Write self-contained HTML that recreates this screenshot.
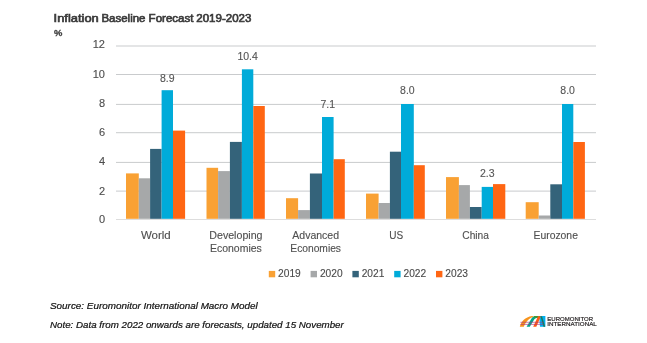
<!DOCTYPE html><html><head><meta charset="utf-8"><style>html,body{margin:0;padding:0;background:#fff;width:647px;height:343px;overflow:hidden}svg{display:block;will-change:transform}text{font-family:"Liberation Sans",sans-serif}</style></head><body>
<svg width="647" height="343" viewBox="0 0 647 343">
<rect width="647" height="343" fill="#fff"/>
<rect x="116.0" y="219.00" width="480" height="1" fill="#DDDDDD"/>
<text x="105" y="222.80" font-size="11" fill="#4D4D4D" stroke="#4D4D4D" stroke-width="0.12" text-anchor="end">0</text>
<rect x="116.0" y="190.60" width="480" height="1" fill="#C9CBCD"/>
<text x="105" y="194.50" font-size="11" fill="#4D4D4D" stroke="#4D4D4D" stroke-width="0.12" text-anchor="end">2</text>
<rect x="116.0" y="161.90" width="480" height="1" fill="#C9CBCD"/>
<text x="105" y="164.90" font-size="11" fill="#4D4D4D" stroke="#4D4D4D" stroke-width="0.12" text-anchor="end">4</text>
<rect x="116.0" y="132.20" width="480" height="1" fill="#C9CBCD"/>
<text x="105" y="136.30" font-size="11" fill="#4D4D4D" stroke="#4D4D4D" stroke-width="0.12" text-anchor="end">6</text>
<rect x="116.0" y="103.90" width="480" height="1" fill="#C9CBCD"/>
<text x="105" y="107.10" font-size="11" fill="#4D4D4D" stroke="#4D4D4D" stroke-width="0.12" text-anchor="end">8</text>
<rect x="116.0" y="74.00" width="480" height="1" fill="#C9CBCD"/>
<text x="105" y="78.10" font-size="11" fill="#4D4D4D" stroke="#4D4D4D" stroke-width="0.12" text-anchor="end">10</text>
<rect x="116.0" y="45.50" width="480" height="1" fill="#C9CBCD"/>
<text x="105" y="48.30" font-size="11" fill="#4D4D4D" stroke="#4D4D4D" stroke-width="0.12" text-anchor="end">12</text>
<rect x="126.00" y="173.40" width="12.80" height="45.40" fill="#F9A134"/>
<rect x="138.80" y="178.30" width="11.30" height="40.50" fill="#A6A8A9"/>
<rect x="150.10" y="148.90" width="11.50" height="69.90" fill="#34637A"/>
<rect x="161.60" y="90.20" width="11.40" height="128.60" fill="#00ABD9"/>
<rect x="173.00" y="130.60" width="12.10" height="88.20" fill="#FF6613"/>
<rect x="206.50" y="167.80" width="11.60" height="51.00" fill="#F9A134"/>
<rect x="218.10" y="171.10" width="11.80" height="47.70" fill="#A6A8A9"/>
<rect x="229.90" y="141.90" width="12.00" height="76.90" fill="#34637A"/>
<rect x="241.90" y="69.30" width="11.40" height="149.50" fill="#00ABD9"/>
<rect x="253.30" y="106.00" width="11.50" height="112.80" fill="#FF6613"/>
<rect x="286.00" y="198.20" width="12.10" height="20.60" fill="#F9A134"/>
<rect x="298.10" y="210.10" width="11.80" height="8.70" fill="#A6A8A9"/>
<rect x="309.90" y="173.50" width="12.10" height="45.30" fill="#34637A"/>
<rect x="322.00" y="117.00" width="11.60" height="101.80" fill="#00ABD9"/>
<rect x="333.60" y="159.20" width="11.20" height="59.60" fill="#FF6613"/>
<rect x="366.00" y="193.60" width="12.60" height="25.20" fill="#F9A134"/>
<rect x="378.60" y="203.00" width="11.30" height="15.80" fill="#A6A8A9"/>
<rect x="389.90" y="151.70" width="11.10" height="67.10" fill="#34637A"/>
<rect x="401.00" y="104.00" width="12.80" height="114.80" fill="#00ABD9"/>
<rect x="413.80" y="165.20" width="11.00" height="53.60" fill="#FF6613"/>
<rect x="446.00" y="177.10" width="12.90" height="41.70" fill="#F9A134"/>
<rect x="458.90" y="185.10" width="11.00" height="33.70" fill="#A6A8A9"/>
<rect x="469.90" y="207.00" width="11.80" height="11.80" fill="#34637A"/>
<rect x="481.70" y="186.90" width="11.30" height="31.90" fill="#00ABD9"/>
<rect x="493.00" y="184.10" width="12.30" height="34.70" fill="#FF6613"/>
<rect x="525.70" y="202.20" width="13.00" height="16.60" fill="#F9A134"/>
<rect x="538.70" y="215.50" width="11.60" height="3.30" fill="#A6A8A9"/>
<rect x="550.30" y="184.30" width="11.70" height="34.50" fill="#34637A"/>
<rect x="562.00" y="104.00" width="11.30" height="114.80" fill="#00ABD9"/>
<rect x="573.30" y="142.00" width="11.60" height="76.80" fill="#FF6613"/>
<text x="140.90" y="238.50" font-size="10.0" fill="#505050" stroke="#505050" stroke-width="0.12" textLength="29.80" lengthAdjust="spacingAndGlyphs">World</text>
<text x="209.30" y="238.50" font-size="10.0" fill="#505050" stroke="#505050" stroke-width="0.12" textLength="53.20" lengthAdjust="spacingAndGlyphs">Developing</text>
<text x="210.00" y="251.90" font-size="10.0" fill="#505050" stroke="#505050" stroke-width="0.12" textLength="51.80" lengthAdjust="spacingAndGlyphs">Economies</text>
<text x="292.30" y="238.50" font-size="10.0" fill="#505050" stroke="#505050" stroke-width="0.12" textLength="46.70" lengthAdjust="spacingAndGlyphs">Advanced</text>
<text x="290.30" y="251.90" font-size="10.0" fill="#505050" stroke="#505050" stroke-width="0.12" textLength="50.70" lengthAdjust="spacingAndGlyphs">Economies</text>
<text x="389.20" y="238.50" font-size="10.0" fill="#505050" stroke="#505050" stroke-width="0.12" textLength="13.90" lengthAdjust="spacingAndGlyphs">US</text>
<text x="462.30" y="238.50" font-size="10.0" fill="#505050" stroke="#505050" stroke-width="0.12" textLength="26.70" lengthAdjust="spacingAndGlyphs">China</text>
<text x="533.50" y="238.50" font-size="10.0" fill="#505050" stroke="#505050" stroke-width="0.12" textLength="44.40" lengthAdjust="spacingAndGlyphs">Eurozone</text>
<text x="167.30" y="81.90" font-size="10.5" fill="#555555" stroke="#555555" stroke-width="0.12" text-anchor="middle">8.9</text>
<text x="247.60" y="59.90" font-size="10.5" fill="#555555" stroke="#555555" stroke-width="0.12" text-anchor="middle">10.4</text>
<text x="327.80" y="107.80" font-size="10.5" fill="#555555" stroke="#555555" stroke-width="0.12" text-anchor="middle">7.1</text>
<text x="407.40" y="93.90" font-size="10.5" fill="#555555" stroke="#555555" stroke-width="0.12" text-anchor="middle">8.0</text>
<text x="487.35" y="177.00" font-size="10.5" fill="#555555" stroke="#555555" stroke-width="0.12" text-anchor="middle">2.3</text>
<text x="567.65" y="93.90" font-size="10.5" fill="#555555" stroke="#555555" stroke-width="0.12" text-anchor="middle">8.0</text>
<text x="53.60" y="21.7" font-size="10.6" fill="#383838" stroke="#383838" stroke-width="0.6" textLength="45.20" lengthAdjust="spacingAndGlyphs">Inflation</text>
<text x="101.40" y="21.7" font-size="10.6" fill="#383838" stroke="#383838" stroke-width="0.6" textLength="44.10" lengthAdjust="spacingAndGlyphs">Baseline</text>
<text x="148.60" y="21.7" font-size="10.6" fill="#383838" stroke="#383838" stroke-width="0.6" textLength="44.90" lengthAdjust="spacingAndGlyphs">Forecast</text>
<text x="196.30" y="21.7" font-size="10.6" fill="#383838" stroke="#383838" stroke-width="0.6" textLength="55.10" lengthAdjust="spacingAndGlyphs">2019-2023</text>
<text x="54" y="35.6" font-size="9.4" font-weight="bold" fill="#404040" stroke="#404040" stroke-width="0.3">%</text>
<rect x="268.80" y="270.9" width="6.4" height="6.4" fill="#F9A134"/>
<text x="278.10" y="276.9" font-size="10.2" fill="#4A4A4A" stroke="#4A4A4A" stroke-width="0.12">2019</text>
<rect x="310.60" y="270.9" width="6.4" height="6.4" fill="#A6A8A9"/>
<text x="319.90" y="276.9" font-size="10.2" fill="#4A4A4A" stroke="#4A4A4A" stroke-width="0.12">2020</text>
<rect x="352.40" y="270.9" width="6.4" height="6.4" fill="#34637A"/>
<text x="361.70" y="276.9" font-size="10.2" fill="#4A4A4A" stroke="#4A4A4A" stroke-width="0.12">2021</text>
<rect x="394.20" y="270.9" width="6.4" height="6.4" fill="#00ABD9"/>
<text x="403.50" y="276.9" font-size="10.2" fill="#4A4A4A" stroke="#4A4A4A" stroke-width="0.12">2022</text>
<rect x="436.00" y="270.9" width="6.4" height="6.4" fill="#FF6613"/>
<text x="445.30" y="276.9" font-size="10.2" fill="#4A4A4A" stroke="#4A4A4A" stroke-width="0.12">2023</text>
<text x="50" y="309.1" font-size="9" font-style="italic" fill="#111111" stroke="#111111" stroke-width="0.2" textLength="207.8" lengthAdjust="spacingAndGlyphs">Source: Euromonitor International Macro Model</text>
<text x="50" y="328.2" font-size="9" font-style="italic" fill="#111111" stroke="#111111" stroke-width="0.2" textLength="293.8" lengthAdjust="spacingAndGlyphs">Note: Data from 2022 onwards are forecasts, updated 15 November</text>
<text x="547.3" y="320.8" font-size="5.9" fill="#231F20" stroke="#231F20" stroke-width="0.18" textLength="45.8" lengthAdjust="spacingAndGlyphs">EUROMONITOR</text>
<text x="547.3" y="326.4" font-size="5.9" fill="#231F20" stroke="#231F20" stroke-width="0.18" textLength="49.5" lengthAdjust="spacingAndGlyphs">INTERNATIONAL</text>
<g>
<path d="M539.2 316 L545.4 316 L545.4 326.8 L540 326.8 Z" fill="#00AEEF"/>
<path d="M519.8 326.8 C521.2 321.5 525 317.2 532 316 L534 316.6 C529.5 318.2 525.6 321.8 523.8 326.8 Z" fill="#F7941D"/>
<path d="M526.6 326.8 L531.2 319 C532.6 316.8 534 316 538 316 L540 316 L539.4 317.8 C536.2 317.8 535 318.2 534.2 319.6 L529.8 326.8 Z" fill="#00A48A"/>
<path d="M533.6 316.2 C535 316 536.5 316 540 316 L539.4 317.8 C537 317.8 535.5 317.9 534.6 318.3 Z" fill="#3A9A3A"/>
<path d="M533.2 326.8 L538 316.2 L540.9 316.2 L536.3 326.8 Z" fill="#FF5A14"/>
<path d="M540.4 316.2 L542 316.2 L545.2 326.8 L543.5 326.8 Z" fill="#177A5C"/>
<rect x="520.4" y="321.8" width="23" height="0.9" fill="#A8347E" opacity="0.7"/>
<rect x="520.4" y="323.9" width="23" height="0.9" fill="#A8347E" opacity="0.7"/>
</g>
</svg></body></html>
